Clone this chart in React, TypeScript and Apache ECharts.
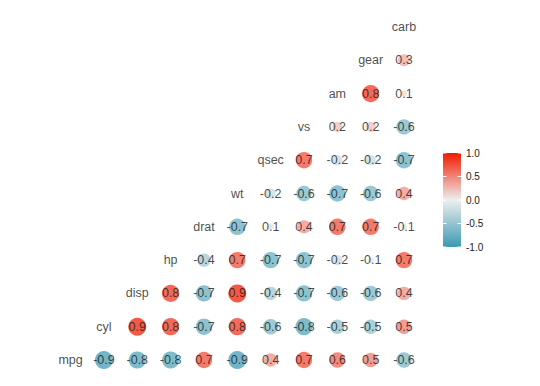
import React, { useEffect, useRef } from "react";
import * as echarts from "echarts";

const variables = ["mpg", "cyl", "disp", "hp", "drat", "wt", "qsec", "vs", "am", "gear", "carb"];

// correlations of each variable with the variables that follow it
const mpgCor = [-0.9, -0.8, -0.8, 0.7, -0.9, 0.4, 0.7, 0.6, 0.5, -0.6];
const cylCor = [0.9, 0.8, -0.7, 0.8, -0.6, -0.8, -0.5, -0.5, 0.5];
const dispCor = [0.8, -0.7, 0.9, -0.4, -0.7, -0.6, -0.6, 0.4];
const hpCor = [-0.4, 0.7, -0.7, -0.7, -0.2, -0.1, 0.7];
const dratCor = [-0.7, 0.1, 0.4, 0.7, 0.7, -0.1];
const wtCor = [-0.2, -0.6, -0.7, -0.6, 0.4];
const qsecCor = [0.7, -0.2, -0.2, -0.7];
const vsCor = [0.2, 0.2, -0.6];
const amCor = [0.8, 0.1];
const gearCor = [0.3];

const correlationRows = [mpgCor, cylCor, dispCor, hpCor, dratCor, wtCor, qsecCor, vsCor, amCor, gearCor];

const legendTicks = [1.0, 0.5, 0.0, -0.5, -1.0];

const LOW = "#3B9AB2";
const MID = "#EEEEEE";
const HIGH = "#F21A00";
const FONT = "Liberation Sans, Arial, Helvetica, sans-serif";
const TEXT = "#1a1a1a";

function circleSize(v: number): number {
  const t = Math.max(0, (Math.abs(v) - 0.1) / 0.8);
  return 6 + 12 * Math.sqrt(t);
}

export default function App() {
  const ref = useRef<HTMLDivElement>(null);

  useEffect(() => {
    if (!ref.current) return;
    const chart = echarts.init(ref.current, undefined, { renderer: "svg" });

    const cells: number[][] = [];
    correlationRows.forEach((row, r) => {
      row.forEach((v, k) => {
        cells.push([r + 1 + k, r, v]);
      });
    });

    const diagLabels = variables.map((name, i) => ({ name, value: [i, i] }));

    // legend geometry
    const barX = 443;
    const barY = 153;
    const barW = 18;
    const barH = 94;
    const tickY = (v: number) => barY + ((1 - v) / 2) * barH;

    const graphics: any[] = [
      {
        type: "rect",
        shape: { x: barX, y: barY, width: barW, height: barH },
        style: {
          fill: new echarts.graphic.LinearGradient(0, 0, 0, 1, [
            { offset: 0, color: HIGH },
            { offset: 0.5, color: MID },
            { offset: 1, color: LOW },
          ]),
        },
        silent: true,
      },
    ];
    legendTicks.forEach((t) => {
      const y = tickY(t);
      graphics.push({
        type: "line",
        shape: { x1: barX, y1: y, x2: barX + 3.5, y2: y },
        style: { stroke: "#ffffff", lineWidth: 1 },
        silent: true,
      });
      graphics.push({
        type: "line",
        shape: { x1: barX + barW - 3.5, y1: y, x2: barX + barW, y2: y },
        style: { stroke: "#ffffff", lineWidth: 1 },
        silent: true,
      });
      graphics.push({
        type: "text",
        x: barX + barW + 5,
        y: y,
        style: {
          text: t.toFixed(1),
          fontSize: 10,
          fontFamily: FONT,
          fill: TEXT,
          align: "left",
          verticalAlign: "middle",
        },
        silent: true,
      });
    });

    chart.setOption({
      animation: false,
      backgroundColor: "#ffffff",
      grid: { left: 70.6, right: 136, top: 27, bottom: 26 },
      xAxis: { type: "value", min: 0, max: 10, show: false },
      yAxis: { type: "value", min: 0, max: 10, show: false },
      visualMap: {
        type: "continuous",
        show: false,
        min: -1,
        max: 1,
        dimension: 2,
        seriesIndex: 0,
        inRange: { color: [LOW, MID, HIGH] },
      },
      graphic: graphics,
      series: [
        {
          type: "scatter",
          data: cells,
          symbol: "circle",
          symbolSize: (d: number[]) => circleSize(d[2]),
          label: {
            show: true,
            position: "inside",
            formatter: (p: any) => p.value[2].toFixed(1),
            fontSize: 12.5,
            fontFamily: FONT,
            color: TEXT,
          },
          emphasis: { disabled: true },
        },
        {
          type: "scatter",
          data: diagLabels,
          symbol: "circle",
          symbolSize: 1,
          itemStyle: { color: "rgba(255,255,255,0)" },
          label: {
            show: true,
            position: "inside",
            formatter: "{b}",
            fontSize: 12.5,
            fontFamily: FONT,
            color: TEXT,
          },
          emphasis: { disabled: true },
        },
      ],
    });

    return () => chart.dispose();
  }, []);

  return (
    <div
      ref={ref}
      style={{ position: "fixed", left: 0, top: 0, width: 540, height: 386, background: "#fff" }}
    />
  );
}
